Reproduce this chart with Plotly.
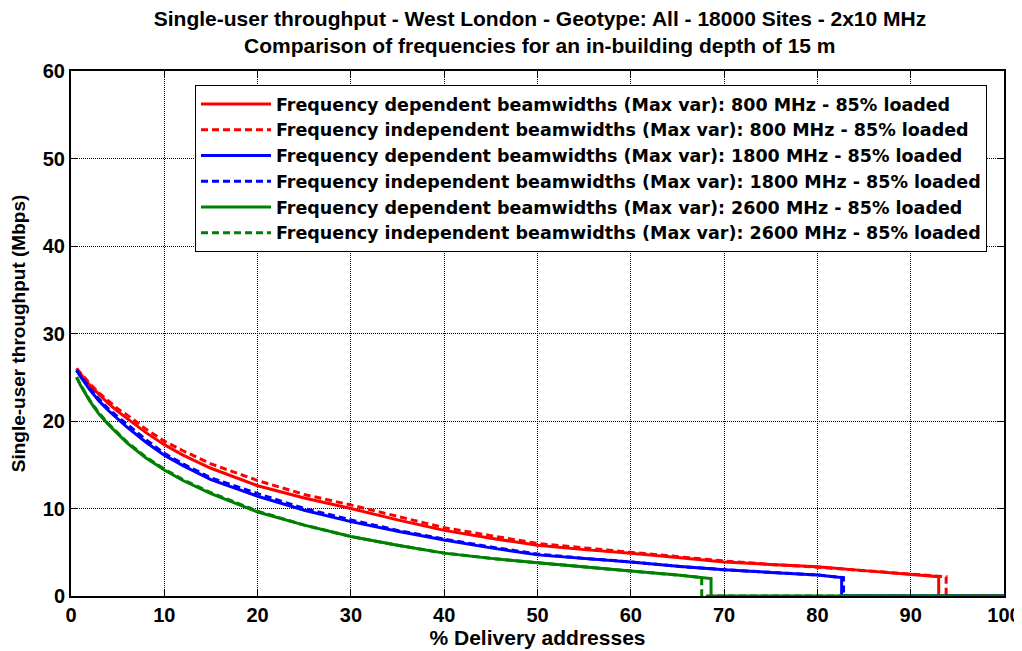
import plotly.graph_objects as go

# Sampled % delivery addresses (x) for the curves
x_head = [0.6, 1, 2, 3, 4, 5, 6, 8, 10, 12, 15, 20, 25, 30, 35, 40, 45, 50, 55, 60, 65]

red_dep = [26.0, 25.4, 24.1, 23.0, 22.0, 21.1, 20.3, 18.7, 17.3, 16.1, 14.6, 12.6, 11.2, 10.0, 8.7, 7.5, 6.6, 5.8, 5.3, 4.9, 4.4]
red_dep_tail_x = [70, 75, 80, 85, 90, 93.0, 93.0, 100]
red_dep_tail_y = [3.9, 3.6, 3.35, 2.9, 2.45, 2.2, 0, 0]

red_ind = [26.0, 25.5, 24.3, 23.2, 22.3, 21.4, 20.7, 19.1, 17.7, 16.6, 15.1, 13.2, 11.6, 10.4, 9.1, 7.8, 6.9, 6.0, 5.5, 5.0, 4.5]
red_ind_tail_x = [70, 75, 80, 85, 90, 93.8, 93.8, 100]
red_ind_tail_y = [4.0, 3.6, 3.3, 2.9, 2.5, 2.2, 0, 0]

blue_dep = [25.8, 25.1, 23.6, 22.3, 21.2, 20.2, 19.3, 17.6, 16.1, 14.9, 13.3, 11.4, 9.8, 8.5, 7.4, 6.4, 5.5, 4.7, 4.3, 3.9, 3.4]
blue_dep_tail_x = [70, 75, 80, 82.6, 82.6, 100]
blue_dep_tail_y = [3.0, 2.7, 2.4, 2.1, 0, 0]

blue_ind = [25.8, 25.2, 23.8, 22.5, 21.4, 20.5, 19.6, 17.9, 16.3, 15.1, 13.5, 11.7, 10.0, 8.7, 7.5, 6.5, 5.6, 4.8, 4.3, 3.9, 3.4]
blue_ind_tail_x = [70, 75, 80, 82.8, 82.8, 100]
blue_ind_tail_y = [3.0, 2.7, 2.4, 2.1, 0, 0]

green_dep = [25.0, 24.1, 22.3, 20.8, 19.6, 18.5, 17.5, 15.8, 14.4, 13.2, 11.7, 9.6, 8.1, 6.8, 5.8, 4.9, 4.3, 3.8, 3.3, 2.85, 2.4]
green_dep_tail_x = [68.6, 68.6, 100]
green_dep_tail_y = [2.0, 0, 0]

green_ind = [25.0, 24.2, 22.4, 20.9, 19.7, 18.6, 17.6, 15.9, 14.5, 13.3, 11.8, 9.7, 8.1, 6.8, 5.8, 4.9, 4.3, 3.8, 3.3, 2.85, 2.4]
green_ind_tail_x = [67.6, 67.6, 100]
green_ind_tail_y = [2.1, 0, 0]

names = [
    "Frequency dependent beamwidths (Max var): 800 MHz - 85% loaded",
    "Frequency independent beamwidths (Max var): 800 MHz - 85% loaded",
    "Frequency dependent beamwidths (Max var): 1800 MHz - 85% loaded",
    "Frequency independent beamwidths (Max var): 1800 MHz - 85% loaded",
    "Frequency dependent beamwidths (Max var): 2600 MHz - 85% loaded",
    "Frequency independent beamwidths (Max var): 2600 MHz - 85% loaded",
]

title_line1 = "Single-user throughput - West London - Geotype: All - 18000 Sites - 2x10 MHz"
title_line2 = "Comparison of frequencies for an in-building depth of 15 m"

series = [
    (red_dep, red_dep_tail_x, red_dep_tail_y, "#ff0000", "solid"),
    (red_ind, red_ind_tail_x, red_ind_tail_y, "#ff0000", "dash"),
    (blue_dep, blue_dep_tail_x, blue_dep_tail_y, "#0000ff", "solid"),
    (blue_ind, blue_ind_tail_x, blue_ind_tail_y, "#0000ff", "dash"),
    (green_dep, green_dep_tail_x, green_dep_tail_y, "#008000", "solid"),
    (green_ind, green_ind_tail_x, green_ind_tail_y, "#008000", "dash"),
]

FONT = "Liberation Sans, Arial, sans-serif"
LEGEND_FONT = "DejaVu Sans, Liberation Sans, sans-serif"

# The page body adds an 8px offset, so the figure is sized to fit the window.
W, H, OFF = 1014, 643, 8
PL, PR, PT, PB = 71, 1004, 71, 596  # plot-area edges in window pixels

fig = go.Figure()
for name, (ys, tx, ty, col, dash) in zip(names, series):
    fig.add_trace(go.Scatter(
        x=x_head + tx, y=ys + ty, mode="lines", name=name,
        line=dict(color=col, width=3, dash="solid" if dash == "solid" else "7px,4px"),
    ))

axis_common = dict(
    showline=True, linecolor="black", linewidth=2, mirror="ticks",
    ticks="inside", ticklen=6, tickcolor="black", tickwidth=1,
    showgrid=True, gridcolor="black", griddash="1px,1px", gridwidth=1,
    zeroline=False, automargin=False,
)

fig.update_xaxes(range=[0, 100], dtick=10, **axis_common,
                 tickfont=dict(family=FONT, size=20, color="black", weight="bold"),
                 title=dict(text="% Delivery addresses", standoff=2,
                            font=dict(family=FONT, size=21, color="black", weight="bold")))
fig.update_yaxes(range=[0, 60], dtick=10, **axis_common,
                 tickfont=dict(family=FONT, size=20, color="black", weight="bold"),
                 title=dict(text="Single-user throughput (Mbps)", standoff=13,
                            font=dict(family=FONT, size=19, color="black", weight="bold")))

fig.update_layout(
    width=W, height=H,
    margin=dict(l=PL - OFF, r=W + OFF - PR, t=PT - OFF, b=H + OFF - PB),
    paper_bgcolor="white", plot_bgcolor="white",
    title=dict(
        text=title_line1,
        x=(540 - OFF) / W, xanchor="center",
        y=1 - (19 - OFF) / H, yanchor="middle", yref="container",
        font=dict(family=FONT, size=21, color="black", weight="bold"),
    ),
    annotations=[dict(
        text=title_line2, xref="paper", yref="paper",
        x=(540 - PL) / (PR - PL), y=(PB - 46) / (PB - PT),
        xanchor="center", yanchor="middle", showarrow=False,
        font=dict(family=FONT, size=21, color="black", weight="bold"),
    )],
    legend=dict(
        x=(195 - PL) / (PR - PL), y=(PB - 85) / (PB - PT),
        xanchor="left", yanchor="top",
        bgcolor="white", bordercolor="black", borderwidth=1,
        font=dict(family=LEGEND_FONT, size=17.5, color="black", weight="bold"),
        itemwidth=70,
        tracegroupgap=0,
    ),
    showlegend=True,
)

fig.write_html("out.html")
